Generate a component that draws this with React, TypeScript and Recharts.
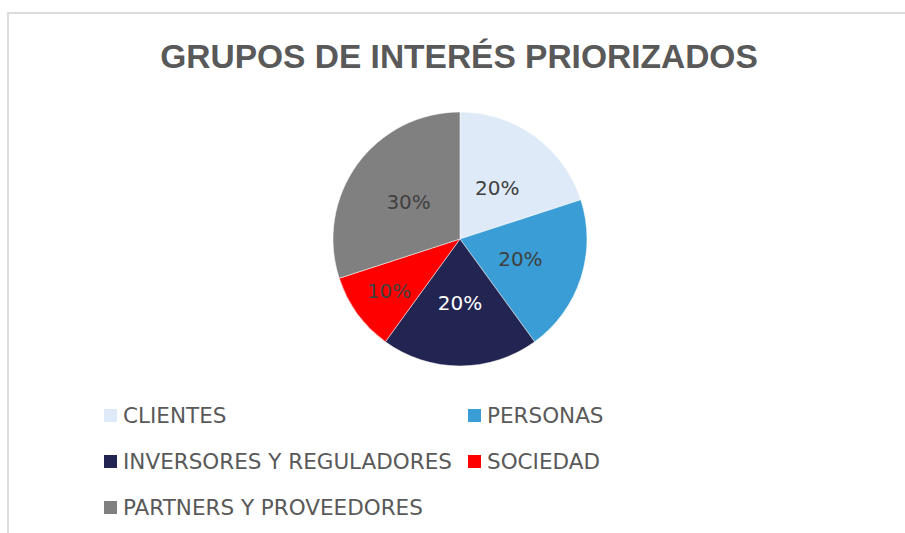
import { PieChart, Pie, Cell, Legend } from "recharts"

const categories = [
  "CLIENTES",
  "PERSONAS",
  "INVERSORES Y REGULADORES",
  "SOCIEDAD",
  "PARTNERS Y PROVEEDORES",
]
const values = [20, 20, 20, 10, 30]
const colors = ["#DEEAF7", "#3A9DD5", "#222551", "#FF0000", "#808080"]
const labelColors = ["#404040", "#404040", "#FFFFFF", "#404040", "#404040"]

const data = categories.map((name, i) => ({ name, value: values[i] }))

const FONT = "'DejaVu Sans', sans-serif"

const RADIAN = Math.PI / 180

const renderLabel = (props: any) => {
  const { cx, cy, midAngle, outerRadius, percent, index } = props
  const r = outerRadius * (percent < 0.15 ? 0.69 : 0.5)
  const x = cx + r * Math.cos(-midAngle * RADIAN)
  const y = cy + r * Math.sin(-midAngle * RADIAN)
  return (
    <text
      x={x}
      y={y}
      fill={labelColors[index]}
      textAnchor="middle"
      dominantBaseline="central"
      fontFamily={FONT}
      fontSize={20}
    >
      {`${Math.round(percent * 100)}%`}
    </text>
  )
}

const renderLegend = () => (
  <div
    style={{
      display: "grid",
      gridTemplateColumns: "364px 364px",
      rowGap: 21,
      marginLeft: 104,
      fontFamily: FONT,
      fontSize: 21.5,
      color: "#595959",
    }}
  >
    {data.map((d, i) => (
      <div key={d.name} style={{ display: "flex", alignItems: "center", height: 25, whiteSpace: "nowrap" }}>
        <span
          style={{
            display: "inline-block",
            width: 13,
            height: 13,
            background: colors[i],
            marginRight: 6,
          }}
        />
        <span>{d.name}</span>
      </div>
    ))}
  </div>
)

export default function App() {
  return (
    <div
      style={{
        position: "fixed",
        left: 0,
        top: 0,
        width: 905,
        height: 533,
        overflow: "hidden",
        background: "#fff",
      }}
    >
      <div
        style={{
          position: "absolute",
          left: 7,
          top: 12,
          width: 930,
          height: 560,
          border: "2px solid #dcdcdc",
        }}
      />
      <div
        style={{
          position: "absolute",
          left: 0,
          top: 38,
          width: 918,
          textAlign: "center",
          fontFamily: "'Liberation Sans', Arial, sans-serif",
          fontWeight: "bold",
          fontSize: 33.5,
          color: "#595959",
        }}
      >
        GRUPOS DE INTERÉS PRIORIZADOS
      </div>
      <div style={{ position: "absolute", left: 0, top: 0 }}>
        <PieChart width={905} height={533}>
          <Pie
            data={data}
            dataKey="value"
            nameKey="name"
            cx={455}
            cy={234}
            outerRadius={127}
            startAngle={90}
            endAngle={-270}
            stroke="#ffffff"
            strokeWidth={0.5}
            label={renderLabel}
            labelLine={false}
            isAnimationActive={false}
          >
            {data.map((d, i) => (
              <Cell key={d.name} fill={colors[i]} />
            ))}
          </Pie>
          <Legend
            content={renderLegend}
            wrapperStyle={{ left: 0, top: 403, width: 905 }}
          />
        </PieChart>
      </div>
    </div>
  )
}
